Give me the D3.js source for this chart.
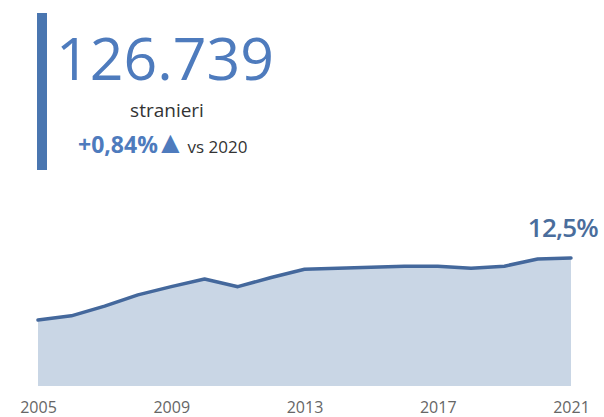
<!DOCTYPE html>
<html>
<head>
<meta charset="utf-8">
<script src="https://cdn.jsdelivr.net/npm/d3@7"></script>
<style>
  body { margin: 0; background: #fff; }
  svg { display: block; font-family: "Open Sans", sans-serif; }
</style>
</head>
<body>
<svg id="chart" width="604" height="417"></svg>
<script>
// share of foreign residents per year (%)
const years = [2005, 2006, 2007, 2008, 2009, 2010, 2011, 2012, 2013, 2014, 2015, 2016, 2017, 2018, 2019, 2020, 2021];
const shares = [6.45, 6.85, 7.8, 8.9, 9.7, 10.45, 9.7, 10.6, 11.4, 11.5, 11.6, 11.7, 11.7, 11.5, 11.7, 12.4, 12.5];
const tickYears = [2005, 2009, 2013, 2017, 2021];

const kpiValue = "126.739";
const kpiLabel = "stranieri";
const kpiDelta = "+0,84%";
const kpiCompare = "vs 2020";
const lastLabel = "12,5%";

const data = years.map((y, i) => ({ year: y, share: shares[i] }));

const svg = d3.select("#chart");

// region KPI block
svg.append("rect")
  .attr("x", 37).attr("y", 13)
  .attr("width", 10).attr("height", 157)
  .attr("fill", "#4a76b0");

svg.append("text")
  .attr("x", 56).attr("y", 80)
  .attr("font-size", 59)
  .attr("font-weight", 400)
  .attr("fill", "#4e7bbd")
  .text(kpiValue);

svg.append("text")
  .attr("x", 167).attr("y", 117)
  .attr("text-anchor", "middle")
  .attr("font-size", 19)
  .attr("fill", "#333")
  .text(kpiLabel);

const delta = svg.append("text")
  .attr("x", 78).attr("y", 153);
delta.append("tspan")
  .attr("font-size", 23)
  .attr("font-weight", 700)
  .attr("fill", "#4e7bbd")
  .text(kpiDelta);
delta.append("tspan")
  .attr("font-size", 31)
  .attr("fill", "#4e7bbd")
  .attr("dx", -3)
  .text("▲");
delta.append("tspan")
  .attr("font-size", 17)
  .attr("fill", "#333")
  .attr("dx", 2)
  .text(kpiCompare);
// endregion

// region area chart
const x = d3.scaleLinear().domain([2005, 2021]).range([38, 571]);
const y = d3.scaleLinear().domain([0, 12.5]).range([386, 258]);

svg.append("path")
  .datum(data)
  .attr("fill", "#c9d6e5")
  .attr("d", d3.area().x(d => x(d.year)).y0(y(0)).y1(d => y(d.share)));

svg.append("path")
  .datum(data)
  .attr("fill", "none")
  .attr("stroke", "#44689c")
  .attr("stroke-width", 3.5)
  .attr("stroke-linejoin", "round")
  .attr("stroke-linecap", "round")
  .attr("d", d3.line().x(d => x(d.year)).y(d => y(d.share)));

const last = data[data.length - 1];
svg.append("text")
  .attr("x", x(last.year) + 27).attr("y", y(last.share) - 21)
  .attr("text-anchor", "end")
  .attr("font-size", 26)
  .attr("font-weight", 600)
  .attr("letter-spacing", -0.8)
  .attr("fill", "#4a6d9c")
  .text(lastLabel);

svg.append("g")
  .attr("transform", `translate(0, ${y(0)})`)
  .call(d3.axisBottom(x).tickValues(tickYears).tickFormat(d3.format("d")).tickSize(0).tickPadding(16))
  .call(g => g.select(".domain").remove())
  .call(g => g.selectAll("text")
    .attr("font-family", "'Open Sans', sans-serif")
    .attr("font-size", 16)
    .attr("fill", "#666"));
// endregion
</script>
</body>
</html>
